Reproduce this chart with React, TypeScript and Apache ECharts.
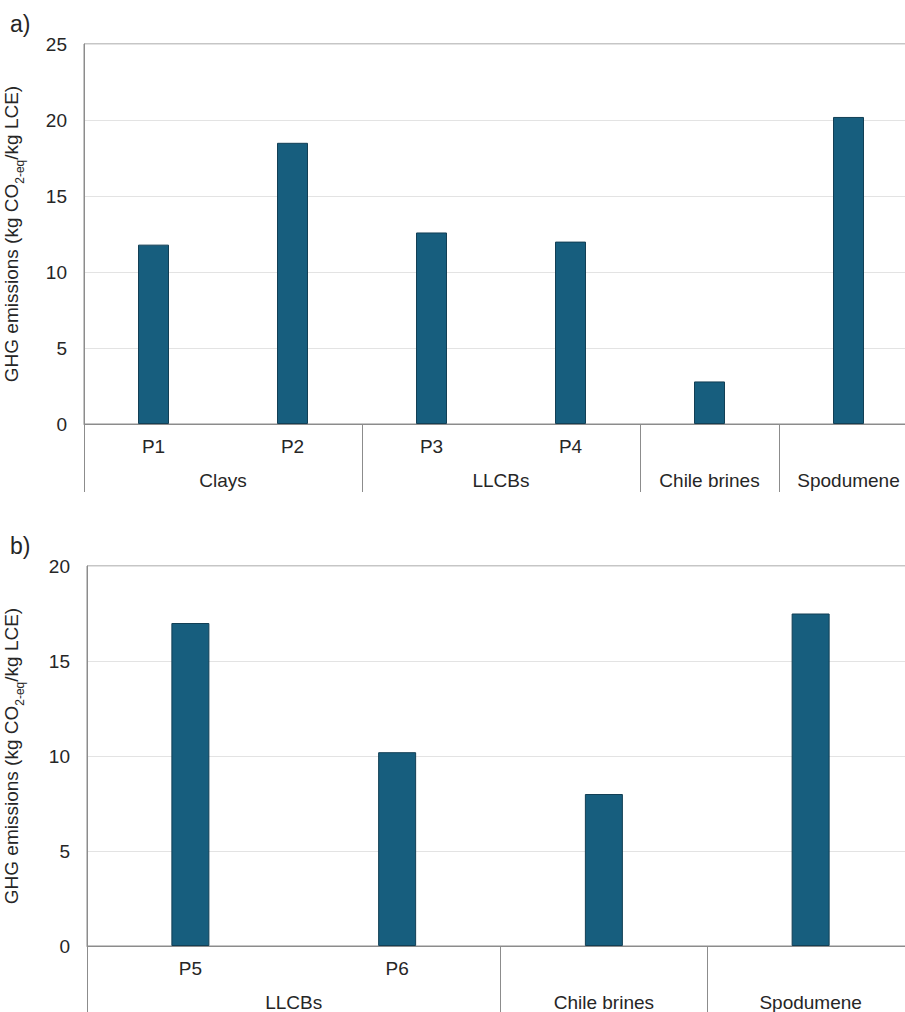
import React, { useEffect, useRef } from "react";
import * as echarts from "echarts";

const subsA = ["P1", "P2", "P3", "P4", "", ""];
const valuesA = [11.8, 18.5, 12.6, 12.0, 2.8, 20.2];
const groupsA = ["Clays", "LLCBs", "Chile brines", "Spodumene"];
const groupCountsA = [2, 2, 1, 1];

const subsB = ["P5", "P6", "", ""];
const valuesB = [17.0, 10.2, 8.0, 17.5];
const groupsB = ["LLCBs", "Chile brines", "Spodumene"];
const groupCountsB = [2, 1, 1];

const yTicksA = { min: 0, max: 25, interval: 5 };
const yTicksB = { min: 0, max: 20, interval: 5 };

const FONT = "Liberation Sans, Arial, sans-serif";
const TXT = "#262626";
const AXIS = "#8c8c8c";
const BAR = "#175e7e";
const FS = 19;

function groupLayout(counts: number[]) {
  const bounds = [0];
  const centers: number[] = [];
  let acc = 0;
  counts.forEach((c) => {
    centers.push(acc + c / 2);
    acc += c;
    bounds.push(acc);
  });
  return { bounds, centers, total: acc };
}

function yName() {
  return {
    name: "{a|GHG emissions (kg CO}{s|2-eq}{a|/kg LCE)}",
    nameLocation: "middle",
    nameRotate: 90,
    nameTextStyle: {
      rich: {
        a: { fontSize: FS, fontFamily: FONT, color: TXT, lineHeight: 22, verticalAlign: "top" },
        s: { fontSize: 12, fontFamily: FONT, color: TXT, lineHeight: 12, padding: [12, 0, 0, 0], verticalAlign: "top" },
      },
    },
  };
}

export default function App() {
  const ref = useRef<HTMLDivElement>(null);
  useEffect(() => {
    if (!ref.current) return;
    const chart = echarts.init(ref.current, null, { renderer: "svg" });
    const gA = groupLayout(groupCountsA);
    const gB = groupLayout(groupCountsB);

    const catAxis = (gridIndex: number, data: string[]) => ({
      type: "category",
      gridIndex,
      data,
      position: "bottom",
      axisTick: { show: false },
      axisLine: { show: true, lineStyle: { color: AXIS, width: 1 } },
      axisLabel: { interval: 0, fontSize: FS, fontFamily: FONT, color: TXT, margin: 13 },
    });
    const groupAxis = (gridIndex: number, g: any, names: string[], tickLen: number) => ({
      type: "value",
      gridIndex,
      min: 0,
      max: g.total,
      position: "bottom",
      axisLine: { show: false },
      splitLine: { show: false },
      axisTick: {
        show: true,
        customValues: g.bounds,
        length: tickLen,
        inside: false,
        lineStyle: { color: AXIS, width: 1 },
      },
      axisLabel: {
        customValues: g.centers,
        fontSize: FS,
        fontFamily: FONT,
        color: TXT,
        margin: 47,
        formatter: (v: number) => {
          const i = g.centers.findIndex((c: number) => Math.abs(c - v) < 1e-6);
          return i >= 0 ? names[i] : "";
        },
      },
    });
    const valAxis = (gridIndex: number, t: any, gap: number) => ({
      type: "value",
      gridIndex,
      min: t.min,
      max: t.max,
      interval: t.interval,
      ...yName(),
      nameGap: gap,
      axisLine: { show: true, lineStyle: { color: AXIS, width: 1 } },
      axisTick: { show: false },
      splitLine: { show: true, lineStyle: { color: "#e3e3e3", width: 1 } },
      axisLabel: { fontSize: FS, fontFamily: FONT, color: TXT, margin: 17 },
    });

    chart.setOption({
      animation: false,
      backgroundColor: "#ffffff",
      grid: [
        { left: 84, top: 44, width: 834, height: 380, outerBoundsMode: "none", containLabel: false, show: true, borderColor: AXIS, borderWidth: 1, backgroundColor: "transparent" },
        { left: 87, top: 566, width: 827, height: 380, outerBoundsMode: "none", containLabel: false, show: true, borderColor: AXIS, borderWidth: 1, backgroundColor: "transparent" },
      ],
      xAxis: [
        catAxis(0, subsA),
        groupAxis(0, gA, groupsA, 68),
        catAxis(1, subsB),
        groupAxis(1, gB, groupsB, 70),
      ],
      yAxis: [valAxis(0, yTicksA, 60), valAxis(1, yTicksB, 63)],
      series: [
        {
          type: "bar",
          xAxisIndex: 0,
          yAxisIndex: 0,
          data: valuesA,
          barWidth: 31,
          itemStyle: { color: BAR, borderColor: "#123f55", borderWidth: 1 },
        },
        {
          type: "bar",
          xAxisIndex: 2,
          yAxisIndex: 1,
          data: valuesB,
          barWidth: 38,
          itemStyle: { color: BAR, borderColor: "#123f55", borderWidth: 1 },
        },
      ],
      graphic: [
        { type: "text", left: 10, top: 12, style: { text: "a)", fontSize: 23, fontFamily: FONT, fill: TXT } },
        { type: "text", left: 10, top: 534, style: { text: "b)", fontSize: 23, fontFamily: FONT, fill: TXT } },
      ],
    });
    return () => chart.dispose();
  }, []);
  return (
    <div
      ref={ref}
      style={{ position: "absolute", left: 0, top: 0, width: 905, height: 1012 }}
    />
  );
}
